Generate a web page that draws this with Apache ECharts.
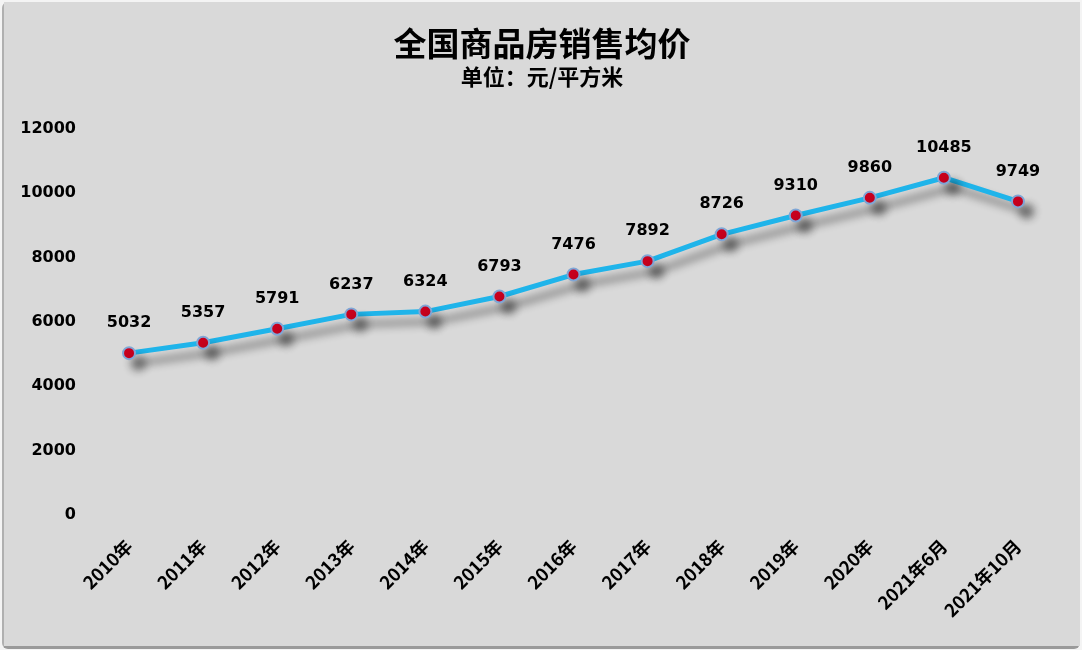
<!DOCTYPE html>
<html>
<head>
<meta charset="utf-8">
<script src="https://cdn.jsdelivr.net/npm/echarts@6/dist/echarts.min.js"></script>
<style>
html,body{margin:0;padding:0;background:#f4f4f4;}
#c{position:absolute;left:2px;top:2px;width:1076px;height:644px;background:#d9d9d9;border-left:2px solid #b0b0b0;border-bottom:3px solid #9a9a9a;border-radius:6px;}
</style>
</head>
<body>
<div id="c"></div>
<script>
const categories = ['2010年','2011年','2012年','2013年','2014年','2015年','2016年','2017年','2018年','2019年','2020年','2021年6月','2021年10月'];
const prices = [5032,5357,5791,6237,6324,6793,7476,7892,8726,9310,9860,10485,9749];
const yTicks = { min: 0, max: 12000, interval: 2000 };

const chart = echarts.init(document.getElementById('c'));
chart.setOption({
  backgroundColor: '#d9d9d9',
  title: {
    text: '全国商品房销售均价',
    subtext: '单位：元/平方米',
    left: 'center',
    top: 20,
    itemGap: 6,
    textStyle: { fontFamily: 'Noto Sans CJK SC', fontWeight: 'bold', fontSize: 33, color: '#000' },
    subtextStyle: { fontFamily: 'Noto Sans CJK SC', fontWeight: 'bold', fontSize: 22, color: '#000' }
  },
  grid: { left: 88, right: 25, top: 127, bottom: 131 },
  xAxis: {
    type: 'category',
    data: categories,
    boundaryGap: true,
    axisLine: { show: false },
    axisTick: { show: false },
    axisLabel: {
      rotate: 45,
      margin: 28,
      interval: 0,
      color: '#000',
      fontWeight: 'bold',
      fontSize: 18,
      fontFamily: 'Noto Sans CJK SC'
    }
  },
  yAxis: {
    type: 'value',
    min: yTicks.min, max: yTicks.max, interval: yTicks.interval,
    splitLine: { show: false },
    axisLine: { show: false },
    axisTick: { show: false },
    axisLabel: {
      color: '#000', fontWeight: 'bold', fontSize: 16, margin: 16, fontFamily: 'DejaVu Sans',
      formatter: v => String(v)
    }
  },
  series: [{
    type: 'line',
    data: prices,
    symbol: 'circle',
    symbolSize: 12,
    lineStyle: {
      color: '#1fb4ea', width: 5,
      shadowColor: 'rgba(0,0,0,0.45)', shadowBlur: 8, shadowOffsetX: 9, shadowOffsetY: 10
    },
    itemStyle: {
      color: '#c8001e', borderColor: '#7fa6d6', borderWidth: 2,
      shadowColor: 'rgba(0,0,0,0.45)', shadowBlur: 8, shadowOffsetX: 9, shadowOffsetY: 10
    },
    label: {
      show: true, position: 'top', distance: 15,
      color: '#000', fontWeight: 'bold', fontSize: 16, fontFamily: 'DejaVu Sans'
    },
    emphasis: { disabled: true },
    animation: false
  }]
});
</script>
</body>
</html>
